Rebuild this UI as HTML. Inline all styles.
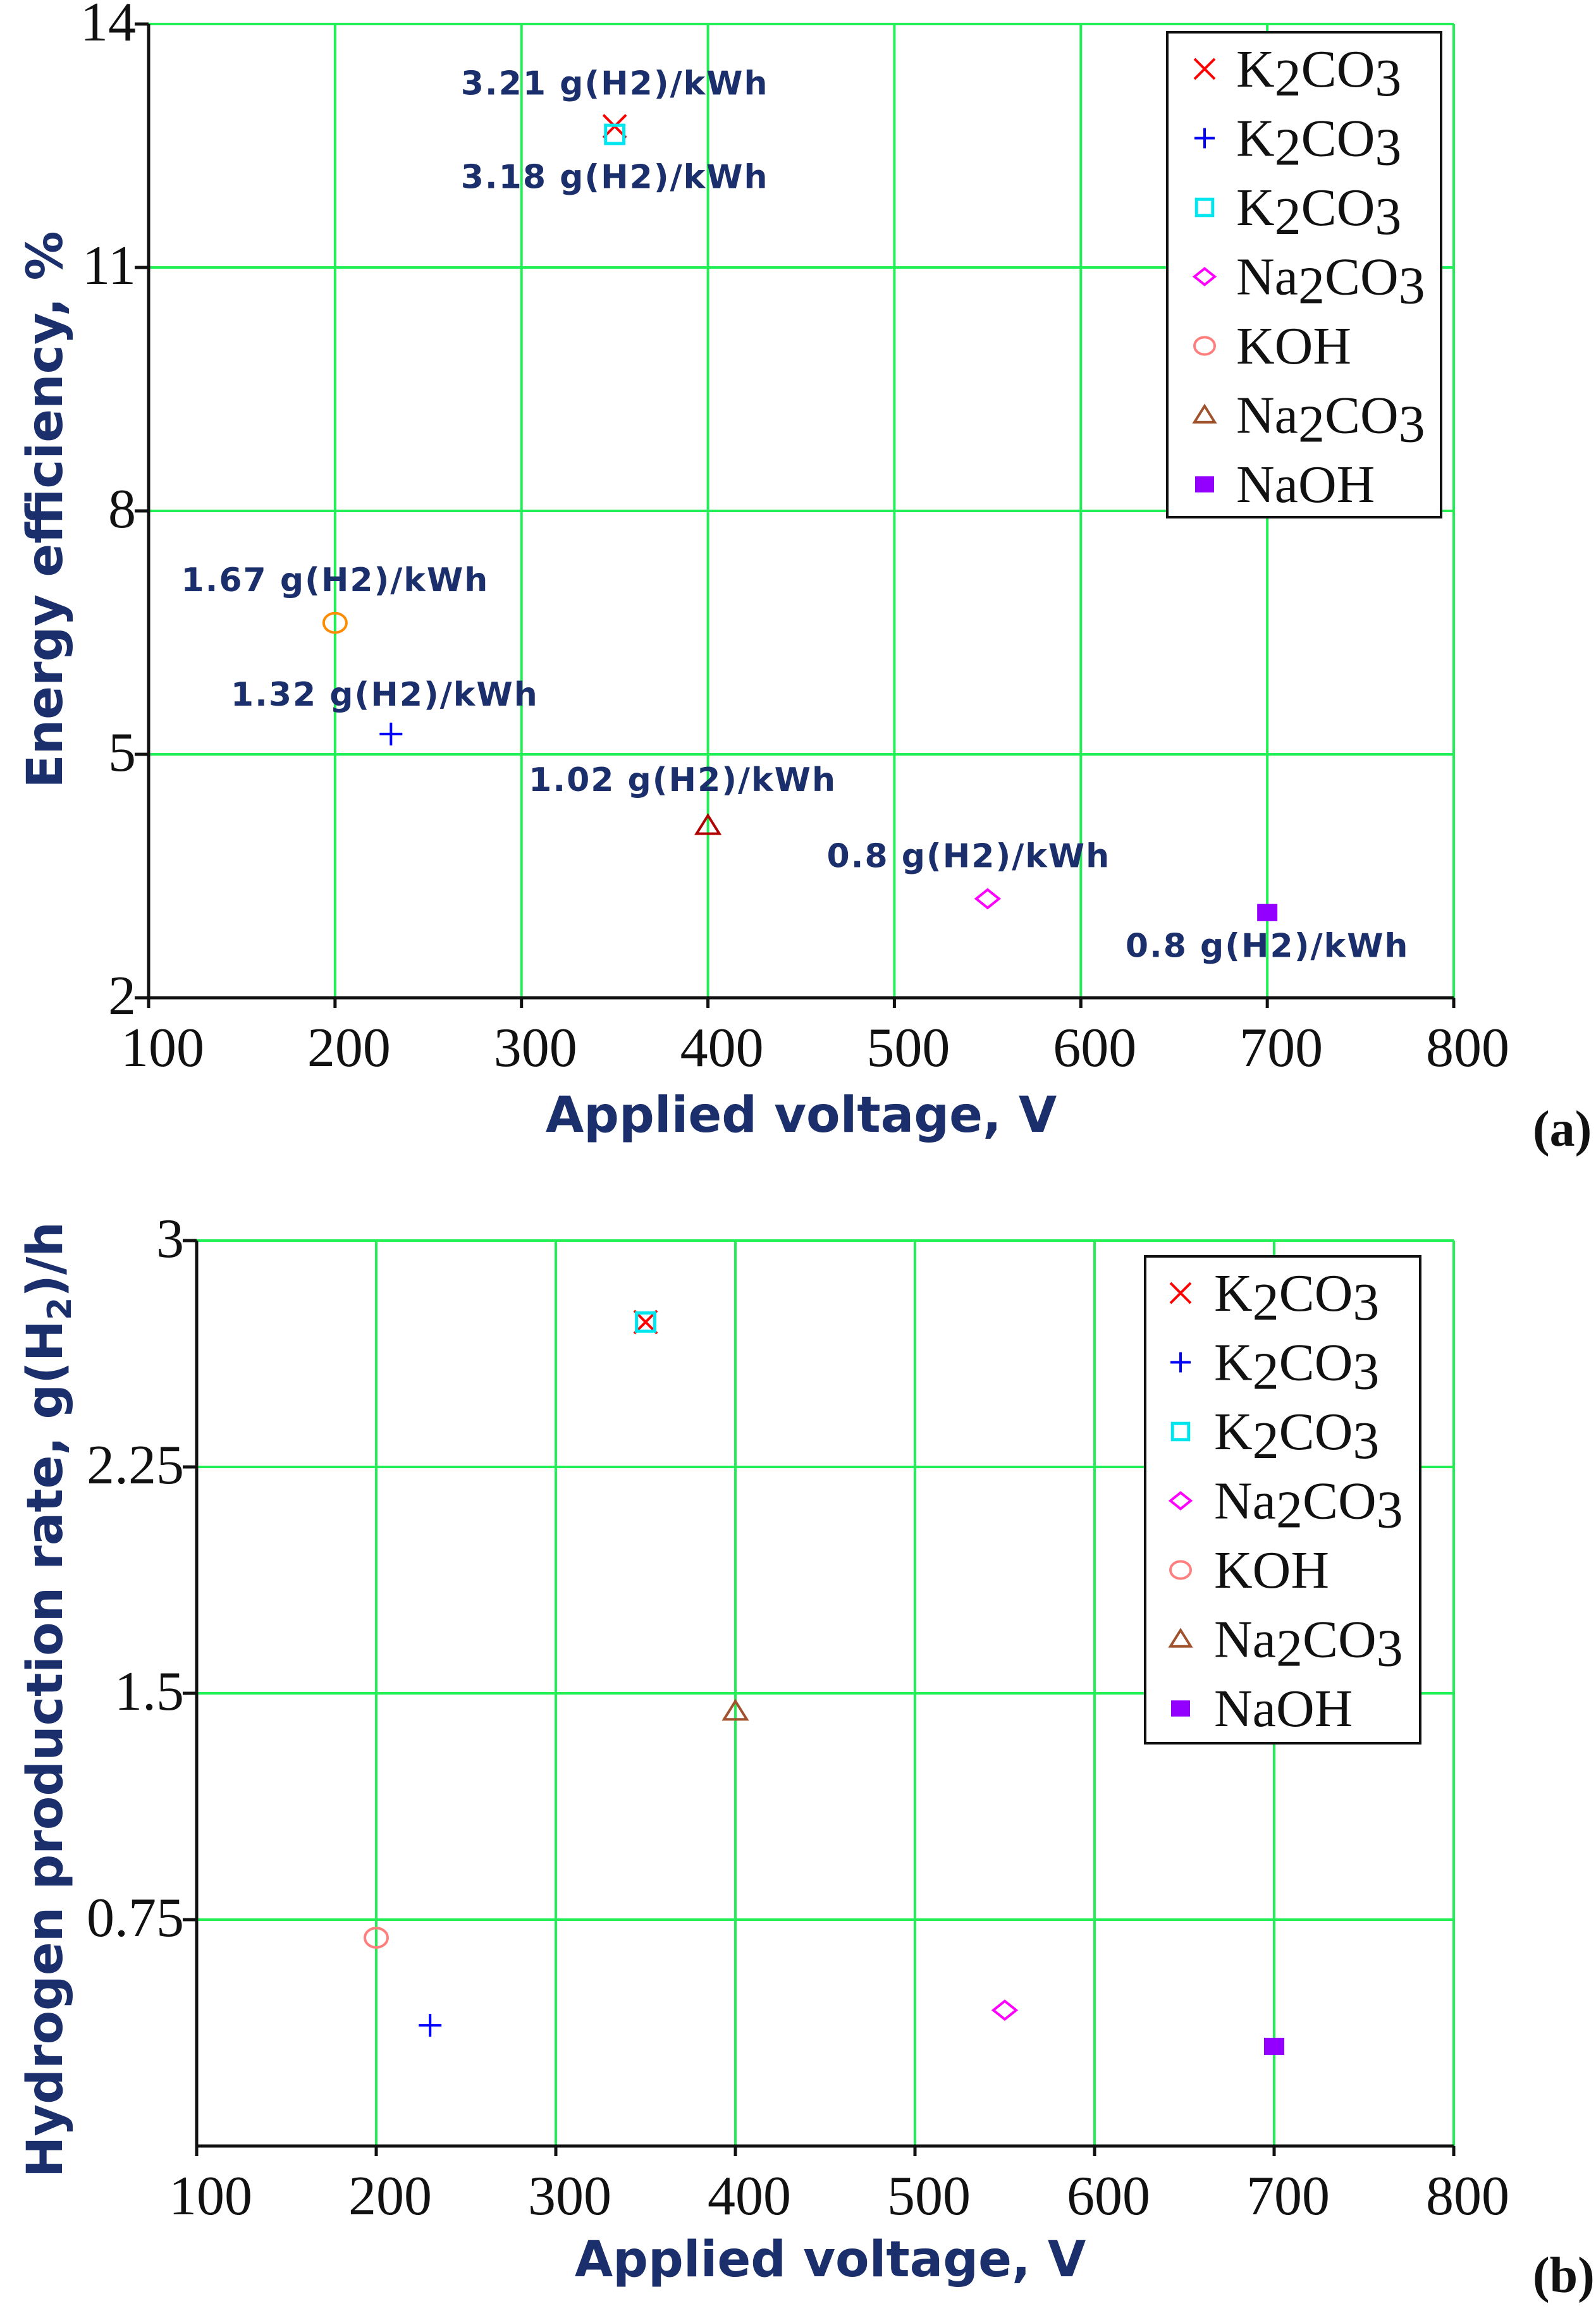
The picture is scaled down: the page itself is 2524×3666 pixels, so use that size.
<!DOCTYPE html>
<html><head><meta charset="utf-8"><style>
html,body{margin:0;padding:0;background:#fff;}
svg{display:block;}
.tick{font-family:"Liberation Serif",serif;font-size:88px;fill:#111;}
.title{font-family:"DejaVu Sans","Liberation Sans",sans-serif;font-weight:bold;font-size:78px;fill:#1a2f6b;}
.ann{font-family:"DejaVu Sans","Liberation Sans",sans-serif;font-weight:bold;font-size:52px;letter-spacing:2px;fill:#1a2f6b;}
.leg{font-family:"Liberation Serif",serif;font-size:84px;fill:#111;}
.panel{font-family:"Liberation Serif",serif;font-size:80px;font-weight:bold;fill:#111;}
</style></head><body>
<svg id="chart" width="2524" height="3666" viewBox="0 0 2524 3666" xmlns="http://www.w3.org/2000/svg"></svg>
<script>
// ---- data ----
const xTicks = [100,200,300,400,500,600,700,800];
const topYTicks = [2,5,8,11,14];
const botYTicks = [0.75,1.5,2.25,3];
const botYTickLabels = ["0.75","1.5","2.25","3"];
const seriesNames = ["K2CO3 (x)","K2CO3 (+)","K2CO3 (square)","Na2CO3 (diamond)","KOH","Na2CO3 (triangle)","NaOH"];
const seriesVoltage = [350,230,350,550,200,400,700];
const efficiency = [12.74,5.25,12.64,3.22,6.62,4.12,3.05];
const productionRate = [2.73,0.40,2.73,0.45,0.69,1.44,0.33];
const annotationText = ["3.21 g(H2)/kWh","1.32 g(H2)/kWh","3.18 g(H2)/kWh","0.8 g(H2)/kWh","1.67 g(H2)/kWh","1.02 g(H2)/kWh","0.8 g(H2)/kWh"];
const legendBase = ["K","K","K","Na","KOH","Na","NaOH"];

const NS="http://www.w3.org/2000/svg";
const svg=document.getElementById('chart');
function mk(tag,attrs,parent,text){const e=document.createElementNS(NS,tag);for(const k in attrs)e.setAttribute(k,attrs[k]);if(text!==undefined)e.textContent=text;(parent||svg).appendChild(e);return e;}

const markerTypes=["x","plus","square","diamond","circle","triangle","fsquare"];
const topColors=["#ff0000","#0000ff","#00e5ee","#ff00ff","#ff8c00","#b00000","#9400ff"];
const botColors=["#ff0000","#0000ff","#00e5ee","#ff00ff","#ff7f7f","#a0522d","#9400ff"];
function marker(g,type,cx,cy,color,s){
  const sw=4;
  if(type==="x"){mk('path',{d:`M${cx-s} ${cy-s}L${cx+s} ${cy+s}M${cx-s} ${cy+s}L${cx+s} ${cy-s}`,stroke:color,'stroke-width':sw,fill:'none'},g);}
  else if(type==="plus"){mk('path',{d:`M${cx-s} ${cy}L${cx+s} ${cy}M${cx} ${cy-s}L${cx} ${cy+s}`,stroke:color,'stroke-width':sw,fill:'none'},g);}
  else if(type==="square"){mk('rect',{x:cx-s*0.8,y:cy-s*0.8,width:s*1.6,height:s*1.6,stroke:color,'stroke-width':sw+1,fill:'none'},g);}
  else if(type==="diamond"){mk('path',{d:`M${cx} ${cy-s*0.8}L${cx+s} ${cy}L${cx} ${cy+s*0.8}L${cx-s} ${cy}Z`,stroke:color,'stroke-width':sw,fill:'none'},g);}
  else if(type==="circle"){mk('ellipse',{cx:cx,cy:cy,rx:s,ry:s*0.85,stroke:color,'stroke-width':sw,fill:'none'},g);}
  else if(type==="triangle"){mk('path',{d:`M${cx} ${cy-s*0.9}L${cx+s} ${cy+s*0.7}L${cx-s} ${cy+s*0.7}Z`,stroke:color,'stroke-width':sw,fill:'none'},g);}
  else if(type==="fsquare"){mk('rect',{x:cx-s,y:cy-s*0.85,width:s*2,height:s*1.7,fill:color},g);}
}

function drawPanel(cfg){
  const g=mk('g',{});
  
  
  const X=v=>cfg.L+(v-100)/700*(cfg.R-cfg.L);
  const Y=v=>cfg.B-(v-cfg.ymin)/(cfg.ymax-cfg.ymin)*(cfg.B-cfg.T);
  const grid=mk('g',{},g);
  
  
  xTicks.forEach(v=>{if(v>100)mk('line',{x1:X(v),x2:X(v),y1:cfg.T,y2:cfg.B,stroke:'#22ee55','stroke-width':4},grid);});
  cfg.yTicks.forEach(v=>{if(v>cfg.ymin)mk('line',{x1:cfg.L,x2:cfg.R,y1:Y(v),y2:Y(v),stroke:'#22ee55','stroke-width':4},grid);});
  const ax=mk('path',{d:`M${cfg.L} ${cfg.T}L${cfg.L} ${cfg.B}L${cfg.R} ${cfg.B}`,stroke:'#111','stroke-width':5,fill:'none'},g);
  
  
  xTicks.forEach(v=>{
    mk('line',{x1:X(v),x2:X(v),y1:cfg.B,y2:cfg.B+16,stroke:'#111','stroke-width':5},g);
    const t=mk('text',{x:X(v)+cfg.xlabOff,y:cfg.B+108,'text-anchor':'middle',class:'tick'},g,String(v));
    
    
  });
  cfg.yTicks.forEach((v,i)=>{
    mk('line',{x1:cfg.L-22,x2:cfg.L,y1:Y(v),y2:Y(v),stroke:'#111','stroke-width':5},g);
    const t=mk('text',{x:cfg.L-20,y:Y(v)+26,'text-anchor':'end',class:'tick'},g,cfg.yLabels[i]);
    
    
  });
  const xt=mk('text',{x:cfg.xtX,y:cfg.xtY,'text-anchor':'middle',class:'title'},g,'Applied voltage, V');
  
  
  const yt=mk('text',{x:0,y:0,'text-anchor':'middle',class:'title',transform:`translate(98 ${cfg.ytY}) rotate(-90)`},g);
  
  
  if(cfg.sub){yt.appendChild(document.createTextNode('Hydrogen production rate, g(H'));mk('tspan',{'font-size':'52px',dy:'14'},yt,'2');mk('tspan',{dy:'-14'},yt,')/h');}
  else yt.textContent='Energy efficiency, %';
  seriesVoltage.forEach((v,i)=>{
    const pg=mk('g',{},g);
    
    
    marker(pg,markerTypes[i],X(v),Y(cfg.vals[i]),cfg.colors[i],i===6?16:18);
  });
  const lg=mk('g',{},g);
  
  
  mk('rect',{x:cfg.lg[0],y:cfg.lg[1],width:cfg.lg[2],height:cfg.lg[3],fill:'#fff',stroke:'#111','stroke-width':4},lg);
  legendBase.forEach((b,i)=>{
    const cy=cfg.lg[1]+58+i*cfg.lgStep;
    const eg=mk('g',{},lg);
    
    
    marker(eg,markerTypes[i],cfg.lgMx,cy,botColors[i],i===6?15:16);
    const t=mk('text',{x:cfg.lgTx,y:cy+28,class:'leg'},eg);
    if(b==="K"||b==="Na"){t.appendChild(document.createTextNode(b));mk('tspan',{dy:'14'},t,'2');mk('tspan',{dy:'-14'},t,'CO');mk('tspan',{dy:'14'},t,'3');}
    else t.textContent=b;
  });
  return {X,Y,g};
}

const topPanel=drawPanel({name:'energy-efficiency-panel',L:235,R:2299,T:38,B:1578,ymin:2,ymax:14,yTicks:topYTicks,yLabels:topYTicks.map(String),
  vals:efficiency,colors:topColors,xlabOff:22,xtX:1267,xtY:1790,ytY:806,lg:[1846,51,433,767],lgStep:109.5,lgMx:1905,lgTx:1955});
const botPanel=drawPanel({name:'production-rate-panel',L:311,R:2299,T:1962,B:3394,ymin:0,ymax:3,yTicks:botYTicks,yLabels:botYTickLabels,
  vals:productionRate,colors:botColors,xlabOff:22,xtX:1313,xtY:3600,ytY:2688,sub:true,lg:[1811,1987,435,770],lgStep:109.5,lgMx:1867,lgTx:1920});

const annDx=[0,-10,0,-30,0,-40,0];
const annDy=[-50,-45,85,-50,-50,-55,70];
seriesVoltage.forEach((v,i)=>{
  const t=mk('text',{x:topPanel.X(v)+annDx[i],y:topPanel.Y(efficiency[i])+annDy[i],'text-anchor':'middle',class:'ann'},topPanel.g,annotationText[i]);
  
  
});

const pa=mk('text',{x:2424,y:1812,class:'panel'},svg,'(a)');


const pb=mk('text',{x:2424,y:3625,class:'panel'},svg,'(b)');


</script>
</body></html>
